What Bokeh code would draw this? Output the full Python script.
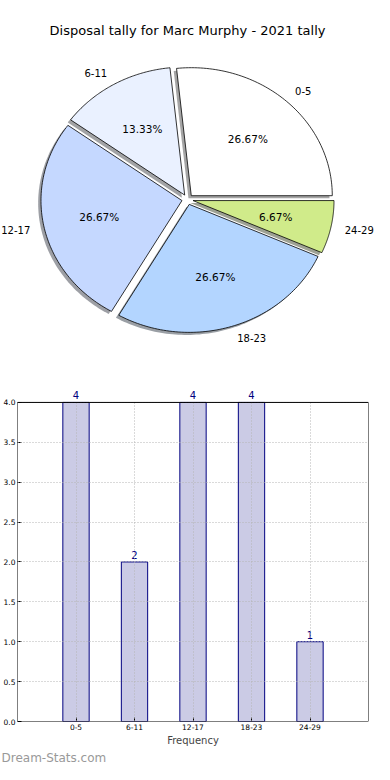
import numpy as np
from bokeh.plotting import figure
from bokeh.models import (Range1d, Label, ColumnDataSource, FixedTicker,
                          NumeralTickFormatter, Title, BoxAnnotation)
from bokeh.core.properties import value
from bokeh.embed import file_html
from bokeh.resources import INLINE

# ---------------- data ----------------
chart_title = "Disposal tally for Marc Murphy - 2021 tally"
categories = ["0-5", "6-11", "12-17", "18-23", "24-29"]
counts = [4, 2, 4, 4, 1]
pie_colors = ["#ffffff", "#eaf1ff", "#c5d8ff", "#b3d5ff", "#d0eb8a"]
explode = [0.04, 0.04, 0.04, 0.04, 0.04]
y_ticks = [0.0, 0.5, 1.0, 1.5, 2.0, 2.5, 3.0, 3.5, 4.0]
y_max = 4.0
x_label = "Frequency"
watermark = "Dream-Stats.com"

FONT = "DejaVu Sans"
W = 374

# ---------------- pie ----------------
PH = 378
cx_px, cy_px = 187, 199      # pie centre in frame pixels (from left / top)
sx, sy = 141.0, 128.0        # pixels per data unit
pie = figure(width=W, height=PH, output_backend="svg", toolbar_location=None,
             x_range=Range1d(-cx_px / sx, (W - cx_px) / sx),
             y_range=Range1d(-(PH - cy_px) / sy, cy_px / sy),
             x_axis_location=None, y_axis_location=None, min_border=0)
pie.grid.visible = False
pie.outline_line_color = None
pie.background_fill_color = "white"
pie.border_fill_color = "white"


def shade(hexcol, f=0.3):
    h = hexcol.lstrip("#")
    r, g, b = (int(h[i:i + 2], 16) for i in (0, 2, 4))
    return "#%02x%02x%02x" % (int(r * f), int(g * f), int(b * f))


total = float(sum(counts))
theta = 0.0
for cat, cnt, col, ex in zip(categories, counts, pie_colors, explode):
    frac = cnt / total
    t1, t2 = theta, theta + 360.0 * frac
    theta = t2
    mid = np.deg2rad((t1 + t2) / 2.0)
    ox, oy = ex * np.cos(mid), ex * np.sin(mid)
    t = np.deg2rad(np.linspace(t1, t2, 80))
    xs = np.concatenate([[ox], ox + np.cos(t)])
    ys = np.concatenate([[oy], oy + np.sin(t)])
    # shadow
    pie.patch(xs - 0.02, ys - 0.02, fill_color=shade(col), fill_alpha=0.5, line_color=None)
    pie.patch(xs, ys, fill_color=col, line_color="black", line_width=0.8)
    # outer label
    lx = ox + 1.1 * np.cos(mid)
    ly = oy + 1.1 * np.sin(mid)
    pie.text([lx], [ly], text=[cat], text_align="left" if lx > 0 else "right",
             text_baseline="middle", text_font=value(FONT),
             text_font_size="10px", text_color="black")
    # percentage
    px = ox + 0.6 * np.cos(mid)
    py = oy + 0.6 * np.sin(mid)
    pie.text([px], [py], text=["%.2f%%" % (100 * frac)], text_align="center",
             text_baseline="middle", text_font=value(FONT),
             text_font_size="10.5px", text_color="black")

pie.add_layout(Label(x=0.0, y=(cy_px - 30) / sy, text=chart_title,
                     text_align="center", text_baseline="middle", text_font=FONT,
                     text_font_size="13px", text_color="black"))

# ---------------- bar ----------------
BH = 764 - PH
idx = list(range(len(categories)))
src = ColumnDataSource(dict(x=idx, top=counts, lab=[str(c) for c in counts]))
x_lo, x_hi = -1, len(categories)
bar = figure(width=W, height=BH, output_backend="svg", toolbar_location=None,
             x_range=Range1d(x_lo, x_hi), y_range=Range1d(0, y_max * 1.075),
             min_border_top=0, min_border_right=6, min_border_left=16,
             min_border_bottom=0)
bar.vbar(x="x", top="top", width=0.45, source=src, fill_color="#cbcbe5",
         line_color="#000080", line_width=1)
bar.text(x="x", y="top", text="lab", source=src, y_offset=-3, text_align="center",
         text_baseline="bottom", text_font=value(FONT), text_font_size="10px",
         text_color="#000080")

# axes box (spines) at the 0..y_max data box
bar.outline_line_color = None
bar.add_layout(BoxAnnotation(left=x_lo, right=x_hi, bottom=0, top=y_max,
                             fill_alpha=0, line_color="black", line_alpha=1.0,
                             line_width=1, level="overlay"))

bar.xaxis.ticker = FixedTicker(ticks=idx)
bar.xaxis.major_label_overrides = {i: c for i, c in zip(idx, categories)}
bar.yaxis.ticker = FixedTicker(ticks=y_ticks)
bar.yaxis.formatter = NumeralTickFormatter(format="0.0")
for ax in (bar.xaxis, bar.yaxis):
    ax.major_tick_in = 4
    ax.major_tick_out = 0
    ax.minor_tick_in = 0
    ax.minor_tick_out = 0
    ax.major_label_standoff = 2
    ax.major_label_text_font = FONT
    ax.major_label_text_font_size = "7.5px"
    ax.major_label_text_color = "black"
    ax.axis_line_color = None
    ax.major_tick_line_color = "black"
bar.xaxis.axis_label = x_label
bar.xaxis.axis_label_text_font = FONT
bar.xaxis.axis_label_text_font_size = "10px"
bar.xaxis.axis_label_text_font_style = "normal"
bar.xaxis.axis_label_standoff = 2
bar.grid.grid_line_color = "#b4b4b4"
bar.grid.grid_line_dash = "1 2"
bar.grid.grid_line_width = 1
bar.xgrid.cross_bounds = (0, y_max)
bar.xgrid.level = "overlay"
bar.ygrid.level = "overlay"
bar.add_layout(Title(text=watermark, align="left", text_font=FONT, text_font_size="12px",
                     text_font_style="normal", text_color="#999999", offset=-16,
                     standoff=0), "below")

open("out.html", "w").write(file_html([pie, bar], INLINE))
